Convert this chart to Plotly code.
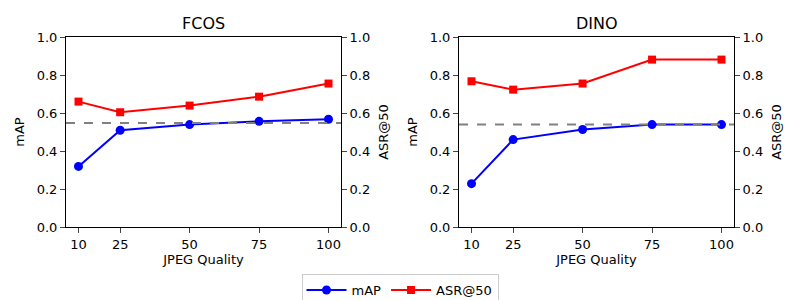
import plotly.graph_objects as go

quality = [10, 25, 50, 75, 100]
tick_vals = [10, 25, 50, 75, 100]
fcos_map = [0.319, 0.509, 0.539, 0.556, 0.567]
fcos_asr = [0.660, 0.604, 0.639, 0.686, 0.755]
dino_map = [0.228, 0.460, 0.513, 0.539, 0.539]
dino_asr = [0.767, 0.723, 0.755, 0.881, 0.881]
baseline = [0.547, 0.540]
titles = ["FCOS", "DINO"]

W, H = 800, 300
FONT = "DejaVu Sans"

def px_x(p):
    return p / W

def px_y(p):
    return 1 - p / H

dom1 = [px_x(66), px_x(341)]
dom2 = [px_x(459), px_x(734)]
ydom = [px_y(227), px_y(37)]

fig = go.Figure()

panels = [
    (fcos_map, fcos_asr, "x", "y", "y2", True),
    (dino_map, dino_asr, "x2", "y3", "y4", False),
]
for mp, asr, xa, ya, ya2, show in panels:
    fig.add_trace(go.Scatter(x=quality, y=mp, mode="lines+markers", name="mAP",
                             line=dict(color="blue", width=2),
                             marker=dict(symbol="circle", size=9, color="blue"),
                             xaxis=xa, yaxis=ya, showlegend=show, legendgroup="map"))
    fig.add_trace(go.Scatter(x=quality, y=asr, mode="lines+markers", name="ASR@50",
                             line=dict(color="red", width=2),
                             marker=dict(symbol="square", size=8, color="red"),
                             xaxis=xa, yaxis=ya2, showlegend=show, legendgroup="asr"))

for i, (xa, ya) in enumerate([("x", "y"), ("x2", "y3")]):
    fig.add_shape(type="line", xref=f"{xa} domain", yref=ya, x0=0, x1=1,
                  y0=baseline[i], y1=baseline[i],
                  line=dict(color="gray", width=2, dash="dash"))

common_x = dict(range=[5.5, 104.5], tickvals=tick_vals, ticks="outside", ticklen=5,
                showline=True, linecolor="black", linewidth=1, mirror=True,
                showgrid=False, zeroline=False, automargin=False,
                tickfont=dict(size=13, family=FONT, color="black"),
                title=dict(text="JPEG Quality", font=dict(size=13, family=FONT, color="black"), standoff=4))
common_y = dict(range=[0, 1], tickvals=[0, 0.2, 0.4, 0.6, 0.8, 1.0], tickformat=".1f",
                ticks="outside", ticklen=5, showline=True, linecolor="black", linewidth=1,
                showgrid=False, zeroline=False, automargin=False,
                tickfont=dict(size=13, family=FONT, color="black"))

fig.update_layout(
    width=W, height=H,
    margin=dict(l=0, r=0, t=0, b=0, autoexpand=False),
    plot_bgcolor="white", paper_bgcolor="white",
    font=dict(family=FONT, color="black"),
    xaxis=dict(domain=dom1, anchor="y", **common_x),
    xaxis2=dict(domain=dom2, anchor="y3", **common_x),
    yaxis=dict(domain=ydom, anchor="x", side="left",
               title=dict(text="mAP", font=dict(size=13, family=FONT), standoff=9), **common_y),
    yaxis2=dict(overlaying="y", anchor="x", side="right",
                title=dict(text="ASR@50", font=dict(size=13, family=FONT), standoff=9), **common_y),
    yaxis3=dict(domain=ydom, anchor="x2", side="left",
                title=dict(text="mAP", font=dict(size=13, family=FONT), standoff=9), **common_y),
    yaxis4=dict(overlaying="y3", anchor="x2", side="right",
                title=dict(text="ASR@50", font=dict(size=13, family=FONT), standoff=9), **common_y),
    legend=dict(orientation="h", x=0.5, xanchor="center", y=px_y(274), yanchor="top",
                bordercolor="#cccccc", borderwidth=1, bgcolor="white", itemwidth=40,
                font=dict(size=13, family=FONT)),
    showlegend=True,
)

for i, dom in enumerate([dom1, dom2]):
    fig.add_annotation(text=titles[i], x=(dom[0] + dom[1]) / 2, y=px_y(23),
                       xref="paper", yref="paper", showarrow=False,
                       xanchor="center", yanchor="middle",
                       font=dict(size=16, family=FONT, color="black"))

fig.write_html("out.html", config={"displayModeBar": False},
               post_script="document.body.style.margin='0';")
